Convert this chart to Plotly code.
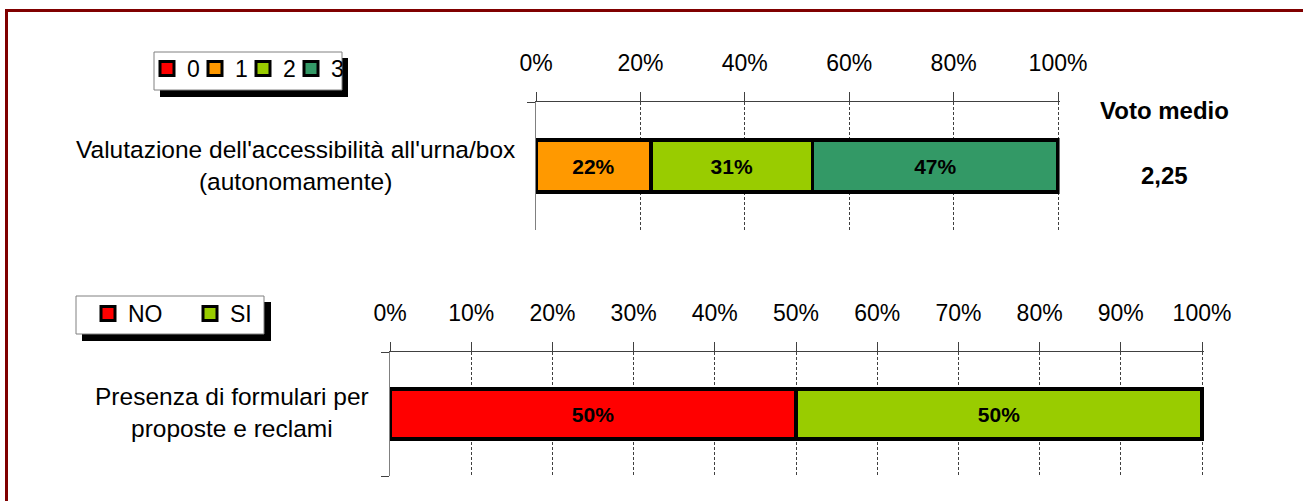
import plotly.graph_objects as go

W, H = 1303, 501
FONT = "Liberation Sans"

# Rating of the accessibility of the ballot box (scores 0-3), share of answers in %
rating_levels = ["0", "1", "2", "3"]
rating_shares = [0, 22, 31, 47]
rating_colors = ["#FF0000", "#FF9900", "#99CC00", "#339966"]
rating_question = "Valutazione dell'accessibilità all'urna/box<br>(autonomamente)"

# Yes / no question, share of answers in %
yn_levels = ["NO", "SI"]
yn_shares = [50, 50]
yn_colors = ["#FF0000", "#99CC00"]
yn_question = "Presenza di formulari per<br>proposte e reclami"

top_ticks = [0, 20, 40, 60, 80, 100]
bottom_ticks = [0, 10, 20, 30, 40, 50, 60, 70, 80, 90, 100]

# average score, written with a decimal comma
mean_score = sum(int(l) * s for l, s in zip(rating_levels, rating_shares)) / sum(rating_shares)
mean_label = f"{mean_score:.2f}".replace(".", ",")

# axis range runs a hair past 100 so the 100% grid line is kept
X_MAX = 100.3


def px(x):
    return x / W


def py(y):
    return 1 - y / H


def x_domain(left, right_at_100):
    length = (right_at_100 - left) * X_MAX / 100
    return [px(left), px(left + length)]


bar_text_font = dict(family=FONT, size=21, color="black", weight="bold")

# legend entry widths (pixels) that set the spacing between legend items
top_legend_widths = [3, 3, 3, 20]
bottom_legend_widths = [57, 30]

fig = go.Figure()


def add_series(levels, shares, colors, widths, question, xa, ya, legend_id, bar_width):
    for lvl, share, col, lw in zip(levels, shares, colors, widths):
        fig.add_trace(go.Bar(
            x=[share], y=[question], orientation="h",
            xaxis=xa, yaxis=ya, name=lvl, showlegend=False,
            width=bar_width,
            marker=dict(color=col, line=dict(color="black", width=3.5)),
            texttemplate="%{x:.0f}%" if share > 0 else "",
            textposition="inside", insidetextanchor="middle",
            insidetextfont=bar_text_font, cliponaxis=False,
            hoverinfo="skip",
        ))
        # square legend key with a heavy black outline
        fig.add_trace(go.Scatter(
            x=[None], y=[None], mode="markers",
            xaxis=xa, yaxis=ya, name=lvl, legend=legend_id, legendwidth=lw,
            marker=dict(symbol="square", size=14, color=col,
                        line=dict(color="black", width=3)),
            hoverinfo="skip",
        ))


add_series(rating_levels, rating_shares, rating_colors, top_legend_widths,
           rating_question, "x", "y", "legend", 0.406)
add_series(yn_levels, yn_shares, yn_colors, bottom_legend_widths,
           yn_question, "x2", "y2", "legend2", 0.403)


def xaxis_style(domain, anchor, ticks):
    return dict(
        domain=domain, anchor=anchor, side="top", range=[0, X_MAX],
        tickmode="array", tickvals=ticks, ticktext=[f"{t}%" for t in ticks],
        ticks="outside", ticklen=9, tickwidth=1, tickcolor="#404040",
        ticklabelstandoff=12,
        showline=True, linecolor="#404040", linewidth=1,
        showgrid=True, gridcolor="#404040", gridwidth=1, griddash="3px,2px",
        zeroline=False, tickfont=dict(family=FONT, size=23, color="black"),
        fixedrange=True,
    )


def yaxis_style(domain, anchor):
    return dict(
        domain=domain, anchor=anchor, type="category", range=[-0.5, 0.5],
        showticklabels=False, ticks="outside", tickson="boundaries",
        ticklen=8, tickwidth=1, tickcolor="#404040",
        showline=True, linecolor="#808080", linewidth=1,
        showgrid=False, zeroline=False, fixedrange=True,
    )


legend_common = dict(
    orientation="h", xanchor="left", yanchor="top",
    bgcolor="rgba(0,0,0,0)", borderwidth=0,
    font=dict(family=FONT, size=23, color="black"),
    entrywidthmode="pixels", traceorder="normal",
)

shapes = [
    # outer frame
    dict(type="rect", xref="paper", yref="paper",
         x0=px(6.5), x1=px(1320), y0=py(10.5), y1=py(520),
         line=dict(color="#800000", width=3), fillcolor="rgba(0,0,0,0)"),
    # legend boxes with drop shadows
    dict(type="rect", xref="paper", yref="paper",
         x0=px(160), x1=px(348), y0=py(58), y1=py(97),
         line=dict(width=0), fillcolor="black"),
    dict(type="rect", xref="paper", yref="paper",
         x0=px(154), x1=px(342), y0=py(52), y1=py(90),
         line=dict(color="#808080", width=1), fillcolor="white"),
    dict(type="rect", xref="paper", yref="paper",
         x0=px(82), x1=px(271), y0=py(302), y1=py(341),
         line=dict(width=0), fillcolor="black"),
    dict(type="rect", xref="paper", yref="paper",
         x0=px(76), x1=px(264), y0=py(296), y1=py(334),
         line=dict(color="#808080", width=1), fillcolor="white"),
]

annotations = [
    dict(text=rating_question, x=px(295), y=py(165.5), xref="paper", yref="paper",
         showarrow=False, align="center", xanchor="center", yanchor="middle",
         font=dict(family=FONT, size=24.5, color="black")),
    dict(text=yn_question, x=px(232), y=py(412.5), xref="paper", yref="paper",
         showarrow=False, align="center", xanchor="center", yanchor="middle",
         font=dict(family=FONT, size=24.5, color="black")),
    dict(text="Voto medio", x=px(1164.5), y=py(111), xref="paper", yref="paper",
         showarrow=False, xanchor="center", yanchor="middle",
         font=dict(family=FONT, size=24, color="black", weight="bold")),
    dict(text=mean_label, x=px(1164), y=py(176), xref="paper", yref="paper",
         showarrow=False, xanchor="center", yanchor="middle",
         font=dict(family=FONT, size=24, color="black", weight="bold")),
]

fig.update_layout(
    width=W, height=H, margin=dict(l=0, r=0, t=0, b=0, autoexpand=False),
    paper_bgcolor="white", plot_bgcolor="white",
    barmode="stack", showlegend=True,
    xaxis=xaxis_style(x_domain(536, 1058), "y", top_ticks),
    yaxis=yaxis_style([py(230), py(102)], "x"),
    xaxis2=xaxis_style(x_domain(390, 1202), "y2", bottom_ticks),
    yaxis2=yaxis_style([py(476), py(352)], "x2"),
    legend=dict(legend_common, x=px(147), y=py(47)),
    legend2=dict(legend_common, x=px(88), y=py(292)),
    shapes=shapes,
    annotations=annotations,
)

fig.write_html("out.html")
